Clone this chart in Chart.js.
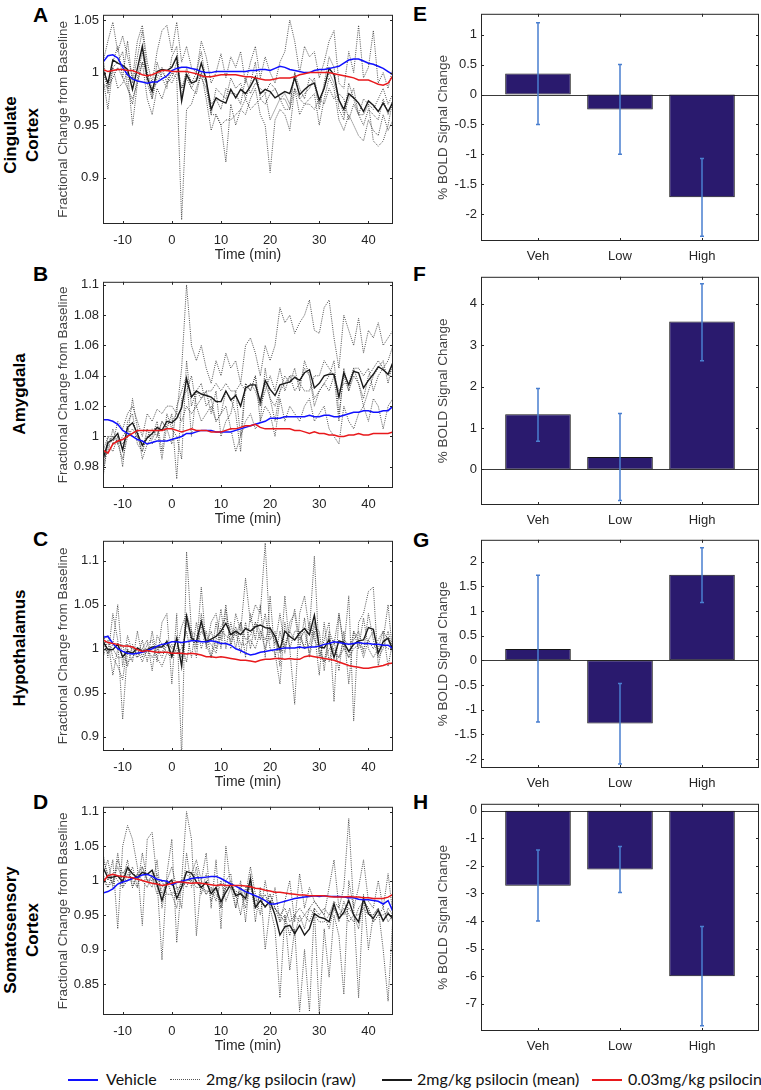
<!DOCTYPE html>
<html>
<head>
<meta charset="utf-8">
<script src="https://cdn.jsdelivr.net/npm/chart.js@4.4.1/dist/chart.umd.min.js"></script>
<style>
  html, body { margin:0; padding:0; background:#fff; }
  body { width:761px; height:1090px; position:relative; overflow:hidden; font-family:'Liberation Sans', Arial, sans-serif; }
  canvas { position:absolute; }
  .letter { position:absolute; font-weight:bold; font-size:21px; line-height:20px; color:#000; }
  .region { position:absolute; font-weight:bold; font-size:17px; line-height:22px; text-align:center; color:#000;
            transform:translate(-50%,-50%) rotate(-90deg); white-space:nowrap; }
  .lgline { position:absolute; top:1079px; width:30px; height:2px; }
  .lgdot { position:absolute; top:1079px; width:30px; height:0; border-top:1px dotted #555; }
  .lgtext { position:absolute; top:1069px; font-family:Lato, 'Open Sans', sans-serif; font-size:16px; line-height:20px; color:#111; white-space:nowrap; }
</style>
</head>
<body>
<div class="letter" style="left:33px;top:5px">A</div>
<div class="letter" style="left:33px;top:264px">B</div>
<div class="letter" style="left:33px;top:529px">C</div>
<div class="letter" style="left:33px;top:792px">D</div>
<div class="letter" style="left:413px;top:4px">E</div>
<div class="letter" style="left:413px;top:264px">F</div>
<div class="letter" style="left:413px;top:530px">G</div>
<div class="letter" style="left:413px;top:792px">H</div>

<div class="region" style="left:22px;top:135px">Cingulate<br>Cortex</div>
<div class="region" style="left:20px;top:394px">Amygdala</div>
<div class="region" style="left:20px;top:648px">Hypothalamus</div>
<div class="region" style="left:22px;top:930px">Somatosensory<br>Cortex</div>

<div class="lgline" style="left:68px;background:#1010ff"></div>
<div class="lgtext" style="left:106px">Vehicle</div>
<div class="lgdot" style="left:170px"></div>
<div class="lgtext" style="left:206px">2mg/kg psilocin (raw)</div>
<div class="lgline" style="left:382px;background:#1a1a1a"></div>
<div class="lgtext" style="left:417px">2mg/kg psilocin (mean)</div>
<div class="lgline" style="left:592px;background:#e8191c"></div>
<div class="lgtext" style="left:628px">0.03mg/kg psilocin</div>

<script>
// time axis (minutes relative to injection)
const minutes = [-14,-13,-12,-11,-10,-9,-8,-7,-6,-5,-4,-3,-2,-1,0,1,2,3,4,5,6,7,8,9,10,11,12,13,14,15,16,17,18,19,20,21,22,23,24,25,26,27,28,29,30,31,32,33,34,35,36,37,38,39,40,41,42,43,44,45];

// ---- A: cingulate cortex ----
const vehA = [1.010,1.016,1.017,1.014,1.005,0.998,0.994,0.992,0.991,0.990,
  0.991,0.991,0.994,0.997,1.002,1.004,1.005,1.005,1.004,1.003,
  1.001,1.000,1.000,1.001,1.001,1.001,1.001,1.001,1.001,1.001,
  1.002,1.002,1.003,1.003,1.002,1.004,1.006,1.005,1.003,1.002,
  1.001,1.000,1.000,1.002,1.003,1.003,1.004,1.005,1.006,1.009,
  1.012,1.013,1.013,1.011,1.009,1.008,1.006,1.004,1.001,0.998];
const lowA = [1.003,1.001,1.002,1.003,1.003,1.002,1.002,1.000,0.998,0.997,
  0.998,1.000,1.002,1.002,1.001,1.001,1.001,1.001,1.000,0.999,
  0.997,0.996,0.996,0.997,0.998,0.998,0.998,0.998,0.997,0.996,
  0.996,0.995,0.994,0.993,0.993,0.994,0.995,0.995,0.995,0.996,
  0.998,0.999,1.000,1.000,1.000,1.000,1.000,0.999,0.998,0.997,
  0.996,0.995,0.993,0.993,0.993,0.991,0.989,0.988,0.990,0.997];
const meanA = [1.003,0.990,1.012,1.009,1.007,1.003,0.984,1.004,1.025,0.995,
  0.982,1.001,1.003,1.002,1.005,1.015,0.973,0.998,0.990,0.992,
  1.009,0.993,0.965,0.976,0.973,0.971,0.984,0.976,0.984,0.980,
  0.987,0.996,0.980,0.984,0.982,0.976,0.979,0.982,0.980,0.995,
  0.979,0.984,0.988,0.990,0.974,0.985,1.004,0.998,0.974,0.965,
  0.980,0.976,0.971,0.963,0.973,0.969,0.963,0.971,0.963,0.972];
const rawA = [
  [1.010,1.030,1.048,1.020,1.035,1.015,0.995,1.030,1.045,1.010,
   0.990,1.020,1.040,1.045,1.020,1.048,1.010,1.025,1.005,1.000,
   1.030,1.015,0.990,1.000,1.018,0.995,1.015,1.005,1.020,0.990,
   1.010,1.025,0.995,1.015,1.000,0.990,1.010,1.020,1.050,1.030,
   1.000,1.025,1.015,1.020,0.995,1.010,1.030,1.040,0.990,0.985,
   1.020,1.000,1.045,0.995,1.005,1.040,0.990,1.000,0.985,1.005],
  [0.995,0.965,1.005,0.985,0.990,1.000,0.950,0.990,1.010,0.975,
   0.960,0.985,0.975,0.990,1.000,0.995,0.860,0.965,0.970,0.985,
   1.000,0.975,0.945,0.960,0.950,0.915,0.970,0.950,0.965,0.960,
   0.975,0.985,0.960,0.950,0.905,0.955,0.965,0.960,0.945,0.985,
   0.960,0.970,0.975,0.980,0.950,0.975,0.995,0.985,0.955,0.945,
   0.960,0.950,0.940,0.935,0.955,0.945,0.940,0.960,0.945,0.955],
  [1.000,0.985,1.010,1.025,0.995,1.030,0.990,1.015,1.040,1.000,
   0.975,1.010,0.995,0.985,1.015,1.025,0.975,1.005,0.990,1.000,
   1.020,0.990,0.960,0.985,0.980,0.975,0.995,0.985,0.990,0.975,
   0.990,1.010,0.975,0.980,0.955,0.965,0.975,0.980,0.970,1.000,
   0.985,0.975,0.995,0.990,0.965,0.990,1.015,1.005,0.965,0.955,
   0.990,0.975,0.960,0.950,0.965,0.960,0.955,0.975,0.960,0.975],
  [1.015,0.980,1.005,1.010,1.020,0.985,0.970,0.995,1.020,0.990,
   0.975,0.995,1.005,0.990,0.995,1.010,0.985,1.000,0.985,0.980,
   1.000,0.990,0.970,0.975,0.965,0.985,0.980,0.980,0.970,0.995,
   0.980,0.990,0.985,0.980,0.990,0.985,0.975,0.975,0.965,0.985,
   0.975,0.980,0.985,0.995,0.970,0.985,1.000,0.990,0.975,0.960,
   0.975,0.985,0.960,0.975,0.970,0.965,0.975,0.985,0.970,0.980],
  [0.990,0.985,0.995,1.005,0.995,0.985,0.975,0.990,1.010,1.000,
   0.985,0.990,1.000,0.995,0.990,1.000,0.985,0.995,0.985,0.995,
   0.995,0.985,0.960,0.960,0.950,0.955,0.955,0.960,0.965,0.975,
   0.965,0.970,0.975,0.970,0.980,0.985,0.975,0.965,0.965,1.000,
   0.975,0.970,0.970,0.965,0.975,0.970,0.985,0.975,0.980,0.975,
   0.955,0.970,0.960,0.960,0.970,0.935,0.930,0.935,0.950,0.975]
];

// ---- B: amygdala ----
const vehB = [1.011,1.011,1.010,1.008,1.004,1.002,1.000,0.998,0.997,0.995,
  0.996,0.997,0.997,0.997,0.998,0.999,1.000,1.002,1.002,1.003,
  1.004,1.004,1.004,1.003,1.003,1.003,1.003,1.004,1.005,1.006,
  1.007,1.008,1.009,1.010,1.012,1.012,1.012,1.013,1.013,1.013,
  1.013,1.013,1.014,1.013,1.013,1.014,1.014,1.013,1.013,1.014,
  1.015,1.016,1.016,1.017,1.017,1.016,1.016,1.017,1.017,1.020];
const lowB = [0.991,0.989,0.995,0.997,0.998,1.000,1.002,1.004,1.004,1.004,
  1.004,1.004,1.004,1.005,1.005,1.004,1.003,1.004,1.005,1.004,
  1.004,1.004,1.003,1.003,1.003,1.004,1.005,1.005,1.006,1.007,
  1.007,1.008,1.006,1.005,1.005,1.005,1.005,1.005,1.005,1.004,
  1.004,1.003,1.002,1.003,1.002,1.002,1.001,1.001,1.000,1.000,
  1.001,1.001,1.002,1.001,1.001,1.002,1.002,1.002,1.002,1.003];
const meanB = [0.985,0.996,0.998,1.002,0.991,1.006,1.009,1.002,0.994,0.999,
  1.002,1.006,1.004,1.010,1.009,1.012,1.019,1.038,1.026,1.030,
  1.028,1.027,1.026,1.023,1.023,1.030,1.024,1.027,1.020,1.032,
  1.034,1.034,1.023,1.037,1.031,1.027,1.034,1.035,1.036,1.039,
  1.037,1.042,1.044,1.032,1.035,1.040,1.041,1.041,1.026,1.042,
  1.034,1.043,1.042,1.032,1.037,1.041,1.046,1.044,1.041,1.049];
const rawB = [
  [0.972,1.000,0.995,1.010,1.005,1.015,1.020,1.010,1.000,1.015,
   1.010,1.018,1.015,1.020,1.020,1.015,1.045,1.100,1.060,1.050,
   1.060,1.045,1.035,1.050,1.040,1.055,1.045,1.050,1.035,1.060,
   1.065,1.055,1.040,1.060,1.050,1.060,1.085,1.075,1.080,1.068,
   1.075,1.080,1.090,1.070,1.068,1.085,1.090,1.065,1.045,1.080,
   1.070,1.060,1.078,1.055,1.070,1.065,1.075,1.060,1.065,1.070],
  [0.985,0.990,1.005,0.995,0.985,1.000,1.025,1.005,0.985,0.995,
   1.000,1.010,0.990,1.015,1.005,1.000,0.985,1.050,1.020,1.030,
   1.035,1.020,1.025,1.010,1.015,1.030,1.025,1.015,0.990,1.035,
   1.030,1.040,1.020,1.035,1.025,1.010,1.030,1.035,1.040,1.030,
   1.035,1.045,1.040,1.020,1.030,1.035,1.040,1.050,1.015,1.040,
   1.030,1.045,1.035,1.025,1.040,1.045,1.050,1.045,1.040,1.045],
  [0.980,0.995,0.990,1.000,0.980,1.010,1.015,0.995,0.990,1.000,
   1.005,1.000,1.010,1.005,1.015,0.972,1.025,1.030,1.040,1.020,
   1.025,1.030,1.015,1.030,1.000,1.010,1.015,1.030,1.000,1.035,
   1.030,1.040,1.010,1.045,1.025,1.020,1.030,1.040,1.035,1.045,
   1.030,1.050,1.040,1.025,1.030,1.035,1.030,1.040,1.010,1.045,
   1.030,1.040,1.035,1.020,1.030,1.040,1.045,1.050,1.035,1.050],
  [0.990,1.000,1.000,0.995,1.000,1.005,1.000,1.000,0.995,1.000,
   0.998,1.005,0.985,1.008,1.010,1.015,1.010,1.020,1.015,1.020,
   1.010,1.015,1.020,1.010,1.015,1.020,1.005,0.990,1.000,1.010,
   1.015,1.005,1.010,1.020,1.015,1.000,1.025,1.010,1.020,1.015,
   1.010,1.020,1.025,1.010,1.015,1.020,1.005,1.000,0.995,1.020,
   1.010,1.005,1.015,1.020,1.010,1.025,1.020,1.005,1.020,1.025],
  [0.975,0.995,1.000,1.000,0.995,1.000,1.005,1.000,0.990,1.005,
   0.995,1.000,1.010,1.005,0.995,1.020,1.030,1.040,1.000,1.030,
   1.025,1.030,1.030,1.035,1.030,1.035,1.030,1.030,1.035,1.030,
   1.035,1.030,1.020,1.030,1.040,1.030,1.045,1.030,1.040,1.040,
   1.035,1.030,1.030,1.040,1.040,1.050,1.045,1.040,1.030,1.035,
   1.035,1.045,1.045,1.040,1.045,1.030,1.040,1.045,1.050,1.060]
];

// ---- C: hypothalamus ----
const vehC = [1.013,1.014,1.006,1.000,0.997,0.995,0.994,0.995,0.996,0.998,
  1.000,1.003,1.005,1.006,1.008,1.008,1.007,1.008,1.009,1.009,
  1.008,1.008,1.009,1.008,1.006,1.006,1.004,1.000,0.998,0.995,
  0.993,0.994,0.996,0.997,0.998,0.999,1.000,1.001,1.001,1.001,
  1.002,1.001,1.002,1.002,1.003,1.005,1.006,1.008,1.007,1.006,
  1.005,1.006,1.007,1.006,1.006,1.005,1.005,1.004,1.004,1.000];
const lowC = [1.010,1.007,1.006,1.005,1.003,1.003,1.002,0.999,0.997,0.998,
  0.997,0.996,0.996,0.996,0.995,0.995,0.995,0.994,0.995,0.994,
  0.993,0.991,0.991,0.990,0.991,0.990,0.989,0.988,0.987,0.987,
  0.986,0.985,0.987,0.988,0.988,0.989,0.989,0.988,0.989,0.988,
  0.988,0.991,0.992,0.991,0.990,0.989,0.988,0.987,0.985,0.983,
  0.981,0.980,0.979,0.978,0.978,0.979,0.980,0.981,0.983,0.984];
const meanC = [1.008,0.999,0.999,1.005,0.991,0.997,0.995,1.001,0.997,0.999,
  1.002,1.002,1.002,1.008,0.991,1.012,0.980,1.037,1.012,1.008,
  1.031,1.008,1.011,1.014,1.020,1.029,1.016,1.020,1.016,1.023,
  1.020,1.025,1.027,1.024,1.023,1.014,0.999,1.020,1.014,1.010,
  1.018,1.023,1.016,1.038,1.002,1.001,1.010,0.990,1.009,1.007,
  0.997,1.005,1.009,1.010,1.024,1.022,0.995,1.008,1.012,0.998];
const rawC = [
  [1.020,0.990,1.040,1.010,0.920,1.000,0.985,1.020,0.990,1.005,
   1.010,0.985,1.030,1.040,0.960,1.040,0.875,1.110,1.020,1.000,
   1.070,1.000,1.030,1.040,1.010,1.050,1.000,1.040,1.020,1.080,
   1.030,1.050,1.040,1.120,1.010,1.020,0.980,1.060,1.000,0.937,
   1.040,1.060,1.020,1.105,0.990,1.010,1.030,0.940,1.040,1.000,
   1.060,0.918,1.030,1.040,1.065,1.070,0.980,1.010,1.050,0.990],
  [0.990,1.010,0.970,1.000,1.005,0.980,1.005,0.990,1.010,0.985,
   1.020,0.990,0.980,0.995,1.005,0.995,1.000,1.020,0.990,1.030,
   1.000,1.020,0.990,1.010,1.045,1.000,1.030,1.000,1.030,0.990,
   1.040,1.010,1.050,0.990,1.060,0.990,1.020,0.995,1.030,1.040,
   1.000,1.035,0.990,1.020,0.970,1.030,0.985,1.010,0.975,1.020,
   0.960,1.020,1.000,1.035,1.000,0.990,1.000,1.020,0.980,1.010],
  [1.015,0.995,1.005,1.050,0.980,1.015,0.995,0.990,1.000,1.010,
   0.975,1.015,1.005,0.995,0.990,1.000,1.025,1.040,1.020,0.990,
   1.040,1.005,0.990,1.030,1.000,1.045,1.005,1.020,0.995,1.030,
   1.000,1.030,1.010,1.040,1.000,0.995,0.960,1.030,1.000,1.020,
   1.020,1.000,1.030,1.010,1.000,0.985,1.000,1.000,0.990,1.010,
   1.005,1.010,1.020,0.995,1.040,1.010,0.990,1.000,1.020,0.995],
  [1.005,0.995,1.000,0.990,0.990,0.985,0.990,1.000,0.985,1.000,
   0.990,1.000,0.995,1.010,1.000,1.010,0.990,1.030,1.010,1.005,
   1.020,1.010,1.005,0.995,1.020,1.015,1.010,1.025,1.005,1.005,
   1.010,1.000,1.020,1.000,1.020,1.010,0.995,1.005,1.020,1.010,
   1.015,1.000,1.005,1.030,0.995,0.985,1.015,0.995,0.990,1.000,
   0.990,1.000,1.005,1.000,1.010,1.020,0.995,1.005,1.000,1.000],
  [1.010,1.015,0.990,0.980,0.965,1.005,1.000,0.995,1.000,0.995,
   1.000,1.000,0.990,1.005,0.995,1.010,1.005,0.985,1.020,1.015,
   1.025,1.005,1.020,1.000,1.025,1.035,1.020,1.015,1.030,1.010,
   1.015,1.030,1.020,1.010,1.025,1.005,1.040,1.000,1.020,1.045,
   1.010,1.020,0.995,1.025,1.020,0.975,1.020,1.005,1.040,1.005,
   0.990,1.020,1.010,0.990,1.010,1.000,1.010,1.020,1.010,0.995]
];

// ---- D: somatosensory cortex ----
const vehD = [0.982,0.984,0.988,0.995,0.998,1.000,1.003,1.005,1.008,1.009,
  1.006,1.002,1.000,0.999,0.994,0.997,0.999,1.001,1.003,1.004,
  1.004,1.005,1.006,1.006,1.003,0.999,0.995,0.992,0.988,0.984,
  0.981,0.978,0.975,0.971,0.966,0.966,0.968,0.970,0.972,0.974,
  0.975,0.976,0.977,0.978,0.977,0.978,0.977,0.977,0.977,0.976,
  0.975,0.975,0.973,0.972,0.972,0.971,0.970,0.966,0.971,0.955];
const lowD = [0.998,1.007,1.009,1.007,1.006,1.005,1.004,1.002,1.000,0.998,
  0.996,0.995,0.993,0.994,0.996,0.998,0.998,0.997,0.996,0.997,
  0.996,0.995,0.994,0.993,0.994,0.993,0.993,0.993,0.993,0.992,
  0.991,0.989,0.988,0.986,0.985,0.983,0.983,0.982,0.981,0.980,
  0.979,0.979,0.978,0.978,0.978,0.978,0.977,0.976,0.976,0.976,
  0.977,0.976,0.976,0.975,0.975,0.974,0.974,0.974,0.976,0.980];
const meanD = [1.019,1.004,1.005,1.007,0.998,1.019,1.010,1.004,1.012,1.009,
  1.015,0.995,0.971,0.995,1.001,0.974,0.990,1.013,1.011,0.998,
  0.990,0.998,0.981,0.990,0.969,0.983,0.995,0.978,0.981,0.974,
  1.002,0.961,0.971,0.962,0.970,0.950,0.921,0.933,0.935,0.923,
  0.935,0.921,0.930,0.952,0.947,0.945,0.940,0.966,0.945,0.954,
  0.971,0.950,0.940,0.974,0.952,0.945,0.957,0.942,0.952,0.945];
const rawD = [
  [1.040,1.000,1.030,0.930,1.050,1.080,1.060,1.020,0.935,1.060,
   1.070,1.000,0.885,1.010,1.060,0.910,1.000,1.100,1.060,0.920,
   1.000,1.040,0.960,1.030,0.930,1.050,0.990,0.960,1.000,0.940,
   1.010,0.940,0.990,0.900,0.960,0.930,0.830,0.950,0.870,0.930,
   0.810,0.900,0.810,0.960,0.806,0.930,0.860,0.950,0.920,0.835,
   1.000,0.960,0.830,0.980,0.900,0.950,0.960,0.900,0.825,0.950],
  [1.010,1.030,0.990,1.040,0.990,1.000,1.020,0.990,1.040,1.000,
   0.990,1.030,0.960,1.000,1.020,0.990,0.960,1.040,0.990,1.020,
   0.980,1.010,0.970,0.990,0.960,1.000,1.010,0.960,0.990,0.980,
   1.020,0.980,0.950,1.000,0.960,0.990,0.940,0.970,1.000,0.940,
   1.010,0.960,0.990,0.970,0.960,0.950,0.990,1.030,0.960,0.990,
   1.090,0.960,0.990,1.030,0.970,0.960,1.000,0.960,1.010,0.950],
  [1.010,0.990,1.000,1.020,1.000,1.030,0.990,1.010,1.000,0.990,
   1.010,0.990,1.000,0.980,0.980,0.960,1.000,0.990,1.010,1.030,
   1.000,0.980,0.990,0.970,1.000,0.970,0.990,0.980,0.950,0.990,
   0.990,0.960,0.980,0.970,0.980,0.960,0.950,0.940,0.960,0.920,
   0.950,0.930,0.960,0.970,0.960,0.950,0.930,0.960,0.940,0.970,
   0.950,0.940,0.960,0.970,0.960,0.940,0.950,0.960,0.940,0.950],
  [1.000,0.990,1.010,1.000,0.990,1.010,1.000,0.990,1.020,1.000,
   1.005,0.980,0.990,1.000,0.980,0.990,0.990,1.000,1.000,1.010,
   0.990,0.980,0.990,0.980,0.970,0.990,0.990,0.985,0.980,0.970,
   0.995,0.970,0.975,0.960,0.980,0.960,0.950,0.960,0.940,0.950,
   0.960,0.950,0.940,0.960,0.950,0.960,0.950,0.970,0.960,0.950,
   0.960,0.950,0.930,0.970,0.960,0.940,0.950,0.950,0.955,0.940],
  [1.030,1.010,0.995,1.030,1.010,1.020,0.990,1.010,1.020,1.000,
   1.000,1.010,0.980,1.000,0.995,0.980,1.000,1.010,1.000,0.990,
   0.990,0.985,0.985,0.990,0.960,0.990,1.000,0.980,0.985,0.960,
   1.000,0.960,0.970,0.980,0.960,0.960,0.940,0.950,0.920,0.950,
   0.940,0.950,0.960,0.950,0.940,0.940,0.950,0.960,0.950,0.960,
   0.940,0.950,0.950,0.960,0.950,0.950,0.960,0.940,0.960,0.950]
];

// ---- E-H: % BOLD signal change bars ----
const groups = ['Veh', 'Low', 'High'];
const groupPos = [1, 2, 3];
const boldE = [0.35, -0.25, -1.72], errLoE = [-0.50, -1.00, -2.37], errHiE = [1.20, 0.50, -1.07];
const boldF = [1.33, 0.30, 3.57],   errLoF = [0.68, -0.75, 2.62],   errHiF = [1.95, 1.35, 4.48];
const boldG = [0.23, -1.28, 1.73],  errLoG = [-1.25, -2.10, 1.17],  errHiG = [1.72, -0.47, 2.28];
const boldH = [-2.72, -2.13, -6.00], errLoH = [-4.00, -2.97, -7.80], errHiH = [-1.43, -1.30, -4.20];

const FONT = "'Liberation Sans', Arial, sans-serif";
const AXIS = '#262626';
Chart.defaults.font.family = FONT;
Chart.defaults.color = AXIS;

// matlab style box with inward ticks on all four sides
const boxTicks = {
  id: 'boxTicks',
  afterDatasetsDraw(chart) {
    const {ctx, chartArea: a, scales} = chart;
    const T = 3;
    ctx.save();
    ctx.strokeStyle = AXIS;
    ctx.lineWidth = 1;
    ctx.strokeRect(a.left + 0.5, a.top + 0.5, a.right - a.left - 1, a.bottom - a.top - 1);
    ctx.beginPath();
    scales.x.ticks.forEach(t => {
      const px = Math.round(scales.x.getPixelForValue(t.value)) + 0.5;
      ctx.moveTo(px, a.bottom); ctx.lineTo(px, a.bottom - T);
      ctx.moveTo(px, a.top); ctx.lineTo(px, a.top + T);
    });
    scales.y.ticks.forEach(t => {
      const py = Math.round(scales.y.getPixelForValue(t.value)) + 0.5;
      ctx.moveTo(a.left, py); ctx.lineTo(a.left + T, py);
      ctx.moveTo(a.right, py); ctx.lineTo(a.right - T, py);
    });
    ctx.stroke();
    ctx.restore();
  }
};

// zero line under the bars, error bars over them
const errorBars = {
  id: 'errorBars',
  beforeDatasetsDraw(chart) {
    const {ctx, chartArea: a, scales: {y}} = chart;
    const y0 = Math.round(y.getPixelForValue(0)) + 0.5;
    ctx.save();
    ctx.strokeStyle = '#3a3a3a';
    ctx.lineWidth = 1;
    ctx.beginPath(); ctx.moveTo(a.left, y0); ctx.lineTo(a.right, y0); ctx.stroke();
    ctx.restore();
  },
  afterDatasetsDraw(chart, args, opts) {
    const {ctx, scales: {x, y}} = chart;
    ctx.save();
    ctx.strokeStyle = '#4a7fcf';
    ctx.lineWidth = 1.5;
    ctx.beginPath();
    groupPos.forEach((g, i) => {
      const px = Math.round(x.getPixelForValue(g));
      const y1 = y.getPixelForValue(opts.lo[i]), y2 = y.getPixelForValue(opts.hi[i]);
      ctx.moveTo(px, y1); ctx.lineTo(px, y2);
      ctx.moveTo(px - 2, y1); ctx.lineTo(px + 2, y1);
      ctx.moveTo(px - 2, y2); ctx.lineTo(px + 2, y2);
    });
    ctx.stroke();
    ctx.restore();
  }
};

function makeCanvas(left, top, w, h) {
  const c = document.createElement('canvas');
  c.width = w; c.height = h;
  c.style.left = left + 'px'; c.style.top = top + 'px';
  c.style.width = w + 'px'; c.style.height = h + 'px';
  document.body.appendChild(c);
  return c;
}

function series(vals) {
  return minutes.map((t, i) => ({x: t, y: vals[i]}));
}

function fmt(v) { return String(parseFloat(v.toFixed(3))); }

function linePanel(p) {
  const canvas = makeCanvas(40, p.top - 10, 358, p.bottom - p.top + 58);
  const datasets = [
    {data: series(p.low), borderColor: '#e8191c', borderWidth: 1.5, order: 0},
    {data: series(p.veh), borderColor: '#1010ff', borderWidth: 1.5, order: 1},
    {data: series(p.mean), borderColor: '#1a1a1a', borderWidth: 1.4, order: 2}
  ].concat(p.raw.map(r => ({
    data: series(r), borderColor: 'rgba(60,60,60,0.9)', borderWidth: 1, borderDash: [1, 1.2], order: 3
  })));
  new Chart(canvas, {
    type: 'line',
    data: {datasets},
    options: {
      responsive: false,
      animation: false,
      layout: {padding: {top: 10, right: 5, left: 0, bottom: 0}},
      elements: {point: {radius: 0}, line: {tension: 0}},
      plugins: {legend: {display: false}, tooltip: {enabled: false}},
      scales: {
        x: {
          type: 'linear', min: -14, max: 45,
          afterFit(s) { s.height = 48; },
          grid: {display: false, drawTicks: false}, border: {display: false},
          ticks: {stepSize: 10, includeBounds: false, autoSkip: false, maxRotation: 0, padding: 9,
                  color: AXIS, font: {size: 13}, callback: v => fmt(v)},
          title: {display: true, text: 'Time (min)', color: AXIS, font: {size: 14}, padding: {top: 0, bottom: 8}}
        },
        y: {
          type: 'linear', min: p.yMin, max: p.yMax,
          afterFit(s) { s.width = 63; },
          grid: {display: false, drawTicks: false}, border: {display: false},
          ticks: {stepSize: p.yStep, includeBounds: false, autoSkip: false, padding: 4,
                  color: AXIS, font: {size: 13}, callback: v => fmt(v)},
          title: {display: true, text: 'Fractional Change from Baseline', color: '#444', font: {size: 13.5},
                  padding: {top: 15, bottom: 0}}
        }
      }
    },
    plugins: [boxTicks]
  });
}

function barPanel(p) {
  const canvas = makeCanvas(410, p.top - 10, 351, p.bottom - p.top + 38);
  new Chart(canvas, {
    type: 'bar',
    data: {datasets: [{
      data: groupPos.map((g, i) => ({x: g, y: p.vals[i]})),
      backgroundColor: '#2a1a6e', borderColor: '#151515', borderWidth: 1, borderSkipped: false,
      barPercentage: 0.8, categoryPercentage: 1
    }]},
    options: {
      responsive: false,
      animation: false,
      layout: {padding: {top: 10, right: 2, left: 0, bottom: 0}},
      plugins: {legend: {display: false}, tooltip: {enabled: false}, errorBars: {lo: p.lo, hi: p.hi}},
      scales: {
        x: {
          type: 'linear', min: 0.305, max: 3.695, offset: false,
          afterFit(s) { s.height = 28; },
          grid: {display: false, drawTicks: false, offset: false}, border: {display: false},
          ticks: {stepSize: 1, includeBounds: false, autoSkip: false, maxRotation: 0, padding: 8,
                  color: AXIS, font: {size: 13}, callback: v => groups[Math.round(v) - 1]}
        },
        y: {
          type: 'linear', min: p.yMin, max: p.yMax,
          afterFit(s) { s.width = 71; },
          grid: {display: false, drawTicks: false}, border: {display: false},
          ticks: {stepSize: p.yStep, includeBounds: false, autoSkip: false, padding: 4,
                  color: AXIS, font: {size: 13}, callback: v => fmt(v)},
          title: {display: true, text: '% BOLD Signal Change', color: '#444', font: {size: 13.5},
                  padding: {top: 25, bottom: 0}}
        }
      }
    },
    plugins: [errorBars, boxTicks]
  });
}

linePanel({top: 13, bottom: 224, yMin: 0.856, yMax: 1.055, yStep: 0.05, veh: vehA, low: lowA, mean: meanA, raw: rawA});
linePanel({top: 280, bottom: 488, yMin: 0.966, yMax: 1.102, yStep: 0.02, veh: vehB, low: lowB, mean: meanB, raw: rawB});
linePanel({top: 539, bottom: 751, yMin: 0.884, yMax: 1.1225, yStep: 0.05, veh: vehC, low: lowC, mean: meanC, raw: rawC});
linePanel({top: 805, bottom: 1015, yMin: 0.805, yMax: 1.107, yStep: 0.05, veh: vehD, low: lowD, mean: meanD, raw: rawD});

barPanel({top: 12, bottom: 241, yMin: -2.45, yMax: 1.35, yStep: 0.5, vals: boldE, lo: errLoE, hi: errHiE});
barPanel({top: 275, bottom: 505, yMin: -0.86, yMax: 4.65, yStep: 1, vals: boldF, lo: errLoF, hi: errHiF});
barPanel({top: 538, bottom: 768, yMin: -2.18, yMax: 2.44, yStep: 0.5, vals: boldG, lo: errLoG, hi: errHiG});
barPanel({top: 802, bottom: 1031, yMin: -7.99, yMax: 0.25, yStep: 1, vals: boldH, lo: errLoH, hi: errHiH});
</script>
</body>
</html>
